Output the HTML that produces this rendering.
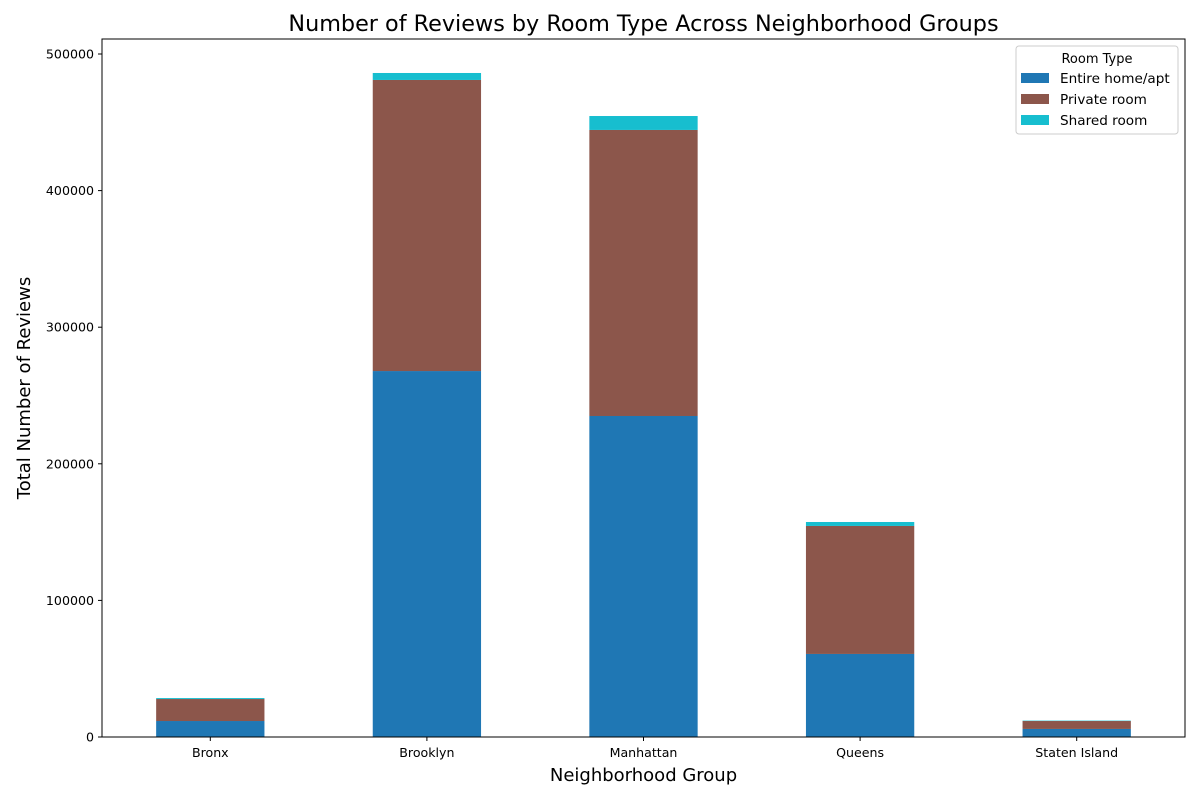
<!DOCTYPE html>
<html><head><meta charset="utf-8"><style>
body{margin:0;background:#fff;font-family:"DejaVu Sans","Liberation Sans",sans-serif;}
svg text{font-family:"DejaVu Sans","Liberation Sans",sans-serif;}
</style></head><body>
<svg id="chart" width="1200" height="800" xmlns="http://www.w3.org/2000/svg"></svg>
<script>
const categories=["Bronx","Brooklyn","Manhattan","Queens","Staten Island"];
const entireHome=[11700,267900,235000,60800,5900];
const privateRoom=[16100,213100,209400,93700,5800];
const sharedRoom=[700,5100,10200,2900,300];
const yTicks=[0,100000,200000,300000,400000,500000];
const seriesNames=["Entire home/apt","Private room","Shared room"];
const colors=["#1f77b4","#8c564b","#17becf"];

const svg=document.getElementById('chart');
const NS="http://www.w3.org/2000/svg";
const L=102,R=1185,T=39,B=737;
function ys(v){return B-v*(B-54)/500000;}
const step=(R-L)/categories.length;
function xc(i){return L+step*(i+0.5);}
function mk(tag,attrs,text){const e=document.createElementNS(NS,tag);for(const k in attrs)e.setAttribute(k,attrs[k]);if(text!==undefined)e.textContent=text;svg.appendChild(e);return e;}

const series=[entireHome,privateRoom,sharedRoom];
categories.forEach((c,i)=>{
  let base=0;
  series.forEach((s,j)=>{
    const r=mk('rect',{x:xc(i)-step*0.25,y:ys(base+s[i]),width:step*0.5,height:ys(base)-ys(base+s[i]),fill:colors[j]});
    
    
    base+=s[i];
  });
  const tk=mk('line',{x1:xc(i),x2:xc(i),y1:B,y2:B+4,stroke:'#000'});
  
  
  const t=mk('text',{x:xc(i),y:B+20,'text-anchor':'middle','font-size':12.6},c);
  
  
});
yTicks.forEach(v=>{
  const tk=mk('line',{x1:L-4,x2:L,y1:ys(v),y2:ys(v),stroke:'#000'});
  
  
  const t=mk('text',{x:L-8,y:ys(v)+4.5,'text-anchor':'end','font-size':12.6},String(v));
  
  
});
const frame=mk('rect',{x:L,y:T,width:R-L,height:B-T,fill:'none',stroke:'#000','stroke-width':1});


const title=mk('text',{x:(L+R)/2+0,y:31,'text-anchor':'middle','font-size':22.3},"Number of Reviews by Room Type Across Neighborhood Groups");


const xt=mk('text',{x:(L+R)/2,y:781,'text-anchor':'middle','font-size':18},"Neighborhood Group");


const yt=mk('text',{x:30,y:(T+B)/2,'text-anchor':'middle','font-size':18,transform:`rotate(-90 30 ${(T+B)/2})`},"Total Number of Reviews");


const lg=mk('rect',{x:1016,y:46,width:162,height:88,rx:3,fill:'#fff',stroke:'#ccc'});


const lt=mk('text',{x:1097,y:63,'text-anchor':'middle','font-size':13},"Room Type");


seriesNames.forEach((n,j)=>{
  const yy=79+j*21;
  const sw=mk('rect',{x:1021,y:yy-6,width:28,height:10,fill:colors[j]});
  
  
  const tx=mk('text',{x:1060,y:yy+4,'font-size':13.6},n);
  
  
});
</script>
</body></html>
